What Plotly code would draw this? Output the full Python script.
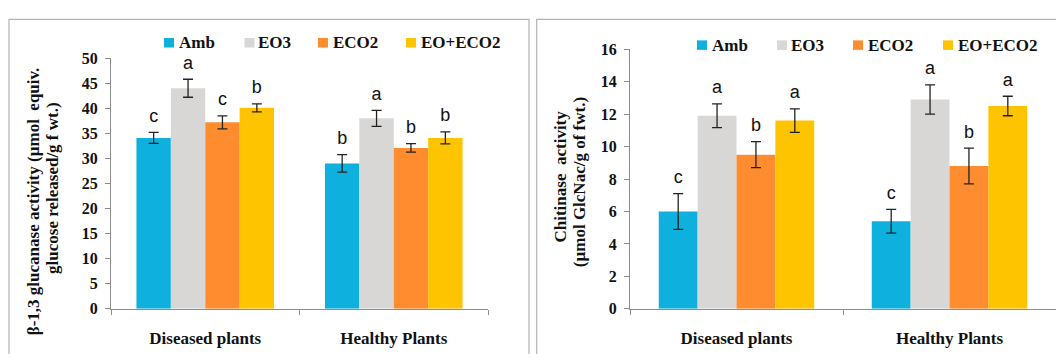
import plotly.graph_objects as go

# ---- data ----
categories = ["Diseased plants", "Healthy Plants"]
series = ["Amb", "EO3", "ECO2", "EO+ECO2"]
colors = ["#0EB0DE", "#D8D7D6", "#FF8C2E", "#FFC400"]

# beta-1,3 glucanase activity
glu_amb = [34.1, 29.0]
glu_eo3 = [44.0, 38.0]
glu_eco2 = [37.2, 32.1]
glu_eoeco2 = [40.1, 34.1]
glu_err_amb = [1.1, 1.75]
glu_err_eo3 = [1.8, 1.6]
glu_err_eco2 = [1.3, 0.85]
glu_err_eoeco2 = [0.8, 1.2]
glu_let_amb = ["c", "b"]
glu_let_eo3 = ["a", "a"]
glu_let_eco2 = ["c", "b"]
glu_let_eoeco2 = ["b", "b"]

# chitinase activity
chi_amb = [6.0, 5.4]
chi_eo3 = [11.9, 12.9]
chi_eco2 = [9.5, 8.8]
chi_eoeco2 = [11.6, 12.5]
chi_err_amb = [1.1, 0.73]
chi_err_eo3 = [0.73, 0.9]
chi_err_eco2 = [0.8, 1.1]
chi_err_eoeco2 = [0.72, 0.6]
chi_let_amb = ["c", "c"]
chi_let_eo3 = ["a", "a"]
chi_let_eco2 = ["b", "b"]
chi_let_eoeco2 = ["a", "a"]

glu_vals = [glu_amb, glu_eo3, glu_eco2, glu_eoeco2]
glu_errs = [glu_err_amb, glu_err_eo3, glu_err_eco2, glu_err_eoeco2]
glu_lets = [glu_let_amb, glu_let_eo3, glu_let_eco2, glu_let_eoeco2]
chi_vals = [chi_amb, chi_eo3, chi_eco2, chi_eoeco2]
chi_errs = [chi_err_amb, chi_err_eo3, chi_err_eco2, chi_err_eoeco2]
chi_lets = [chi_let_amb, chi_let_eo3, chi_let_eco2, chi_let_eoeco2]

W, H = 1056, 354
SERIF = "Liberation Serif"
SANS = "Liberation Sans"

fig = go.Figure()


def add_panel(vals, errs, lets, xa, ya):
    for name, col, v, e, l in zip(series, colors, vals, errs, lets):
        fig.add_trace(go.Bar(
            x=categories, y=v, name=name, marker=dict(color=col, line_width=0),
            error_y=dict(type="data", array=e, visible=True, color="#222222",
                         thickness=1.3, width=5),
            xaxis=xa, yaxis=ya, showlegend=False, offsetgroup=name,
        ))
        # significance letters sit above the error bar; the invisible marker
        # pads the gap between the whisker cap and the letter
        fig.add_trace(go.Scatter(
            x=categories, y=[a + b for a, b in zip(v, e)], mode="markers+text",
            marker=dict(size=8, opacity=0),
            text=l, textposition="top center",
            textfont=dict(family=SANS, size=18, color="#111111"),
            xaxis=xa, yaxis=ya, showlegend=False, offsetgroup=name,
            cliponaxis=False, hoverinfo="skip",
        ))


add_panel(glu_vals, glu_errs, glu_lets, "x", "y")
add_panel(chi_vals, chi_errs, chi_lets, "x2", "y2")

axis_line = "#8C8C8C"
xcommon = dict(type="category", showline=True, linecolor=axis_line, linewidth=1,
               ticks="outside", tickson="boundaries", ticklen=5, tickcolor=axis_line,
               showgrid=False, zeroline=False, ticklabelstandoff=14,
               tickfont=dict(family=SERIF, size=17, color="#111111", weight="bold"))
ycommon = dict(showline=True, linecolor=axis_line, linewidth=1, ticks="outside",
               ticklen=5, tickcolor=axis_line, showgrid=False, zeroline=False,
               ticklabelstandoff=4,
               tickfont=dict(family=SERIF, size=16, color="#111111", weight="bold"))

fig.update_layout(
    width=W, height=H, margin=dict(l=0, r=0, t=0, b=0),
    paper_bgcolor="white", plot_bgcolor="white",
    barmode="group", bargap=0.27, scattermode="group", scattergap=0.27,
    xaxis=dict(domain=[111 / W, 488 / W], anchor="y", **xcommon),
    yaxis=dict(domain=[(H - 316) / H, (H - 52.7) / H], range=[0, 50], dtick=5,
               anchor="x", **ycommon),
    xaxis2=dict(domain=[630 / W, 1.0], anchor="y2", **xcommon),
    yaxis2=dict(domain=[(H - 316) / H, (H - 43.3) / H], range=[0, 16], dtick=2,
                anchor="x2", **ycommon),
)

shapes = []
annotations = []

# panel frames
shapes.append(dict(type="rect", xref="paper", yref="paper",
                   x0=9 / W, x1=529 / W, y0=-0.2, y1=(H - 12) / H,
                   line=dict(color="#B4B4B4", width=1.2), fillcolor="rgba(0,0,0,0)"))
shapes.append(dict(type="rect", xref="paper", yref="paper",
                   x0=536.7 / W, x1=1.2, y0=-0.2, y1=(H - 12) / H,
                   line=dict(color="#B4B4B4", width=1.2), fillcolor="rgba(0,0,0,0)"))

# legends (swatch left edge, text left edge) for each panel
legend_left = [(164, 176.5), (244.5, 256), (318, 331), (406, 419)]
legend_right = [(697, 710), (777, 789), (853, 866), (943, 956)]
for entries, yc in ((legend_left, 36.5), (legend_right, 39)):
    for (sx, tx), name, col in zip(entries, series, colors):
        shapes.append(dict(type="rect", xref="paper", yref="paper",
                           x0=sx / W, x1=(sx + 10) / W,
                           y0=(H - yc - 5) / H, y1=(H - yc + 5) / H,
                           line_width=0, fillcolor=col))
        annotations.append(dict(xref="paper", yref="paper", x=tx / W, y=(H - yc) / H,
                                xanchor="left", yanchor="middle", showarrow=False,
                                text=f"<b>{name}</b>",
                                font=dict(family=SERIF, size=17, color="#111111")))

# y-axis titles, one annotation per line
titles = [
    ("<b>β-1,3 glucanase activity (µmol  equiv.</b>", 33, 203),
    ("<b>glucose released/g f wt.)</b>", 53, 189),
    ("<b>Chitinase  activity</b>", 560, 177),
    ("<b>(µmol GlcNac/g of fwt.)</b>", 579, 183),
]
for txt, xc, yc in titles:
    annotations.append(dict(xref="paper", yref="paper", x=xc / W, y=(H - yc) / H,
                            xanchor="center", yanchor="middle", showarrow=False,
                            textangle=-90, text=txt,
                            font=dict(family=SERIF, size=17, color="#111111")))

fig.update_layout(shapes=shapes, annotations=annotations)

fig.write_html("out.html")
